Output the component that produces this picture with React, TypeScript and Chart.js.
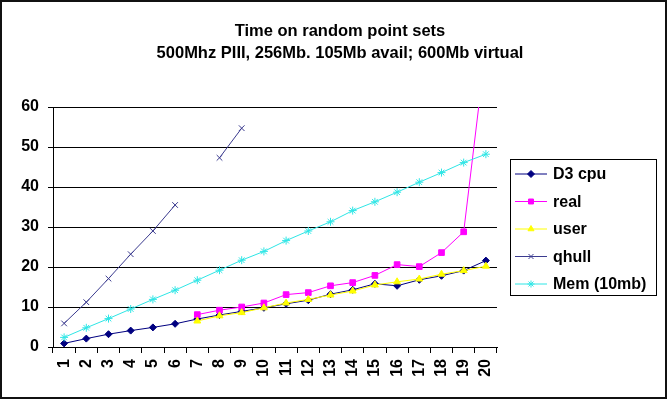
import React, { useEffect, useRef } from "react";
import { Chart, registerables } from "chart.js";
import { drawPoint } from "chart.js/helpers";

Chart.register(...registerables);

const categories = ["1","2","3","4","5","6","7","8","9","10","11","12","13","14","15","16","17","18","19","20"];
const d3cpu = [0.9, 2.1, 3.2, 4.1, 4.9, 5.8, 7.0, 8.0, 8.9, 9.8, 10.8, 11.7, 13.2, 14.3, 15.8, 15.3, 16.8, 17.8, 19.1, 21.6];
const real = [null, null, null, null, null, null, 8.1, 9.2, 10.0, 11.0, 13.1, 13.6, 15.3, 16.1, 17.9, 20.6, 20.1, 23.6, 28.8, 75];
const user = [null, null, null, null, null, null, 6.5, 7.8, 8.6, 9.8, 11.0, 11.9, 13.0, 14.0, 15.5, 16.3, 17.0, 18.2, 19.1, 20.2];
const qhull = [5.9, 11.2, 17.1, 23.2, 29.0, 35.5, null, 47.3, 54.7, null, null, null, null, null, null, null, null, null, null, null];
const mem = [2.4, 4.8, 7.1, 9.5, 11.9, 14.2, 16.7, 19.2, 21.7, 23.9, 26.6, 29.0, 31.3, 34.1, 36.3, 38.7, 41.2, 43.6, 46.1, 48.2];
const titleLines = ["Time on random point sets", "500Mhz PIII, 256Mb. 105Mb avail; 600Mb virtual"];

const FONT = "'Liberation Sans', Arial, sans-serif";

const framePlugin = {
  id: "frame",
  beforeDraw(chart: any) {
    const ctx = chart.ctx;
    ctx.save();
    ctx.fillStyle = "#ffffff";
    ctx.fillRect(0, 0, chart.width, chart.height);
    ctx.restore();
  },
  afterDraw(chart: any) {
    const ctx = chart.ctx;
    ctx.save();
    ctx.strokeStyle = "#111";
    ctx.lineWidth = 2;
    ctx.strokeRect(1, 1, chart.width - 3, chart.height - 3);
    // title
    ctx.fillStyle = "#000";
    ctx.font = `bold 16.5px ${FONT}`;
    ctx.textAlign = "center";
    ctx.textBaseline = "middle";
    titleLines.forEach((t, i) => ctx.fillText(t, 340, 31 + i * 22));
    ctx.restore();
  },
};

const legendPlugin = {
  id: "boxLegend",
  afterDraw(chart: any) {
    const ctx = chart.ctx;
    const x0 = chart.chartArea.right + 13;
    const y0 = 159;
    const w = 146;
    const h = 136;
    ctx.save();
    ctx.fillStyle = "#fff";
    ctx.fillRect(x0, y0, w, h);
    ctx.strokeStyle = "#000";
    ctx.lineWidth = 1;
    ctx.strokeRect(x0 + 0.5, y0 + 0.5, w, h);
    chart.data.datasets.forEach((ds: any, i: number) => {
      const y = y0 + 15 + i * 27.5;
      ctx.strokeStyle = ds.borderColor;
      ctx.lineWidth = 1;
      ctx.beginPath();
      ctx.moveTo(x0 + 5, y);
      ctx.lineTo(x0 + 37, y);
      ctx.stroke();
      ctx.fillStyle = ds.pointBackgroundColor;
      ctx.strokeStyle = ds.pointBorderColor;
      drawPoint(ctx, { pointStyle: ds.pointStyle, rotation: 0, radius: 3.5, borderWidth: 1 } as any, x0 + 21, y);
      ctx.fillStyle = "#000";
      ctx.font = `bold 16px ${FONT}`;
      ctx.textBaseline = "middle";
      ctx.textAlign = "left";
      ctx.fillText(ds.label, x0 + 43, y + 1);
    });
    ctx.restore();
  },
};

export default function App() {
  const ref = useRef<HTMLCanvasElement>(null);
  useEffect(() => {
    document.body.style.margin = "0";
    if (!ref.current) return;
    const mk = (label: string, data: any[], color: string, style: string, order: number, radius = 4) => ({
      label,
      data,
      borderColor: color,
      backgroundColor: color,
      pointBackgroundColor: color,
      pointBorderColor: color,
      pointStyle: style,
      pointRadius: radius,
      pointBorderWidth: 1,
      borderWidth: 1,
      spanGaps: false,
      order,
    });
    const chart = new Chart(ref.current, {
      type: "line",
      data: {
        labels: categories,
        datasets: [
          mk("D3 cpu", d3cpu, "#000080", "rectRot", 5, 3.5),
          mk("real", real, "#FF00FF", "rect", 4, 4),
          mk("user", user, "#FFFF00", "triangle", 3, 4),
          mk("qhull", qhull, "#3B3B8F", "crossRot", 2, 4),
          mk("Mem (10mb)", mem, "#2EE6E6", "star", 1, 4),
        ] as any,
      },
      options: {
        responsive: false,
        animation: false,
        devicePixelRatio: 1,
        layout: { padding: { left: 8, right: 171, top: 107, bottom: 0 } },
        plugins: {
          legend: { display: false },
          tooltip: { enabled: false },
          title: { display: false },
        },
        scales: {
          x: {
            offset: true,
            grid: { display: true, drawOnChartArea: false, drawTicks: true, tickLength: 6, offset: true, color: "#000" },
            border: { display: true, color: "#000", width: 1 },
            ticks: {
              autoSkip: false,
              minRotation: 90,
              maxRotation: 90,
              padding: 6,
              color: "#000",
              font: { family: FONT, size: 16, weight: "bold" },
            },
            afterFit: (s: any) => { s.height = 53; },
          },
          y: {
            min: 0,
            max: 60,
            ticks: {
              stepSize: 10,
              padding: 9,
              color: "#000",
              font: { family: FONT, size: 16, weight: "bold" },
            },
            grid: { color: "#000", lineWidth: 1, tickLength: 5, drawTicks: true },
            border: { display: true, color: "#000", width: 1 },
            afterFit: (s: any) => { s.width = 45; },
          },
        },
      } as any,
      plugins: [framePlugin, legendPlugin],
    });
    return () => chart.destroy();
  }, []);
  return (
    <div style={{ width: 668, height: 400 }}>
      <canvas ref={ref} width={668} height={400} style={{ display: "block" }} />
    </div>
  );
}
